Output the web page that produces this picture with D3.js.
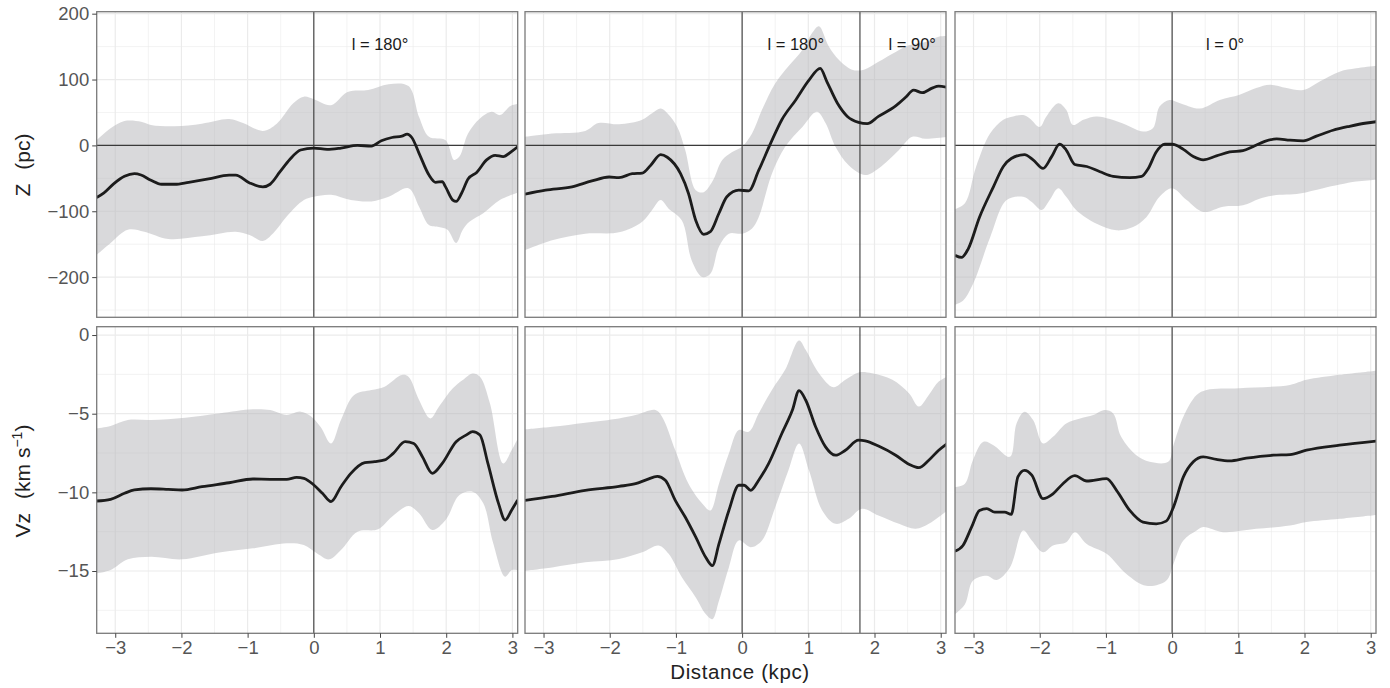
<!DOCTYPE html>
<html>
<head>
<meta charset="utf-8">
<script src="https://cdn.jsdelivr.net/npm/d3@7"></script>
<style>
  html, body { margin: 0; padding: 0; background: #fff; }
  svg { display: block; font-family: "Liberation Sans", Arial, Helvetica, sans-serif; }
</style>
</head>
<body>
<svg id="chart" width="1390" height="688"></svg>
<script>
// ---- tick values -------------------------------------------------------
const distTicks = [-3, -2, -1, 0, 1, 2, 3];
const zTicks = [-200, -100, 0, 100, 200];
const vzTicks = [-15, -10, -5, 0];

// ---- longitude annotations per column ([distance, text]) ---------------
const labelsA = [[1.0, "l = 180°"]];
const labelsB = [[0.81, "l = 180°"], [2.57, "l = 90°"]];
const labelsC = [[0.8, "l = 0°"]];

// vertical reference lines per column (distance, kpc)
const vlinesA = [0];
const vlinesB = [0, 1.78];
const vlinesC = [0];

// ---- Z (pc) : column A --------------------------------------------------
const zMidA = [[-3.28,-79],[-3.17,-72],[-3.02,-58],[-2.86,-47],[-2.71,-43],[-2.61,-45],[-2.46,-53],[-2.30,-59],[-2.10,-59],[-1.89,-56],[-1.59,-51],[-1.28,-45],[-1.18,-45],[-0.97,-57],[-0.77,-63],[-0.66,-59],[-0.51,-40],[-0.36,-21],[-0.20,-7],[0,-4],[0.20,-6],[0.41,-4],[0.66,0],[0.87,-1],[1.02,7],[1.18,12],[1.33,14],[1.41,17],[1.48,12],[1.59,-12],[1.74,-45],[1.84,-56],[1.94,-55],[1.99,-63],[2.10,-83],[2.15,-85],[2.23,-73],[2.33,-51],[2.46,-41],[2.61,-22],[2.74,-15],[2.86,-17],[2.99,-9],[3.08,-2]];
const zHiA = [[-3.28,8],[-3.07,26],[-2.86,37],[-2.61,36],[-2.46,31],[-2.10,29],[-1.69,33],[-1.28,40],[-1.07,34],[-0.77,22],[-0.56,33],[-0.31,64],[-0.15,74],[0,70],[0.26,61],[0.51,81],[0.82,84],[1.13,93],[1.43,90],[1.59,43],[1.74,13],[1.99,8],[2.12,-22],[2.20,-17],[2.33,18],[2.51,41],[2.69,51],[2.81,46],[2.97,60],[3.08,63]];
const zLoA = [[-3.28,-166],[-3.07,-148],[-2.81,-128],[-2.56,-131],[-2.20,-142],[-1.69,-138],[-1.18,-131],[-0.97,-136],[-0.77,-145],[-0.61,-133],[-0.41,-108],[-0.15,-83],[0,-78],[0.26,-75],[0.56,-83],[0.87,-85],[1.13,-78],[1.43,-65],[1.59,-93],[1.74,-121],[1.89,-124],[2.02,-128],[2.15,-148],[2.25,-128],[2.35,-116],[2.56,-103],[2.81,-83],[3.08,-72]];

// ---- Z (pc) : column B --------------------------------------------------
const zMidB = [[-3.28,-74],[-2.97,-68],[-2.57,-63],[-2.27,-54],[-2.01,-48],[-1.86,-49],[-1.66,-43],[-1.51,-42],[-1.38,-30],[-1.23,-14],[-1.13,-18],[-0.93,-43],[-0.81,-73],[-0.70,-114],[-0.58,-135],[-0.48,-131],[-0.35,-103],[-0.23,-78],[-0.05,-68],[0.10,-69],[0.25,-38],[0.43,3],[0.60,39],[0.81,69],[1.01,99],[1.18,117],[1.28,97],[1.44,64],[1.59,44],[1.76,35],[1.89,33],[2.06,44],[2.32,60],[2.47,73],[2.59,84],[2.72,80],[2.87,87],[2.97,90],[3.10,88]];
const zHiB = [[-3.28,13],[-2.87,18],[-2.37,22],[-2.17,34],[-1.86,32],[-1.51,39],[-1.36,49],[-1.23,56],[-1.13,49],[-0.98,28],[-0.86,-7],[-0.70,-68],[-0.58,-71],[-0.45,-55],[-0.30,-22],[-0.15,-10],[0,-2],[0.15,18],[0.30,54],[0.50,94],[0.70,120],[0.91,145],[1.06,171],[1.16,181],[1.31,150],[1.46,130],[1.66,115],[1.84,115],[2.06,127],[2.32,142],[2.52,152],[2.77,157],[2.97,165],[3.10,166]];
const zLoB = [[-3.28,-159],[-2.87,-144],[-2.37,-134],[-1.86,-132],[-1.51,-116],[-1.36,-98],[-1.23,-83],[-1.11,-96],[-0.91,-114],[-0.76,-175],[-0.60,-200],[-0.48,-195],[-0.35,-154],[-0.20,-134],[0,-134],[0.15,-126],[0.25,-109],[0.45,-43],[0.65,-2],[0.91,28],[1.13,51],[1.26,34],[1.41,-2],[1.61,-30],[1.86,-45],[2.06,-35],[2.37,-7],[2.57,13],[2.77,10],[3.10,13]];

// ---- Z (pc) : column C --------------------------------------------------
const zMidC = [[-3.28,-167],[-3.18,-170],[-3.08,-157],[-2.91,-109],[-2.70,-63],[-2.55,-32],[-2.43,-20],[-2.23,-14],[-2.10,-22],[-1.95,-35],[-1.82,-17],[-1.70,2],[-1.60,-7],[-1.47,-29],[-1.29,-32],[-1.09,-40],[-0.89,-47],[-0.64,-49],[-0.46,-47],[-0.36,-35],[-0.24,-10],[-0.11,2],[0,2],[0.17,-6],[0.32,-17],[0.47,-22],[0.67,-16],[0.87,-10],[1.07,-8],[1.22,-2],[1.40,6],[1.58,10],[1.78,8],[1.98,7],[2.18,14],[2.43,23],[2.68,29],[2.94,34],[3.09,36]];
const zHiC = [[-3.28,-97],[-3.13,-88],[-2.96,-32],[-2.75,18],[-2.55,39],[-2.40,44],[-2.25,46],[-2.15,41],[-2.00,28],[-1.90,44],[-1.72,64],[-1.60,54],[-1.50,31],[-1.34,39],[-1.14,44],[-0.94,40],[-0.69,31],[-0.44,21],[-0.29,26],[-0.19,59],[-0.04,69],[0.12,64],[0.42,56],[0.72,69],[1.02,77],[1.27,87],[1.48,92],[1.73,87],[1.98,84],[2.23,97],[2.53,112],[2.78,117],[3.09,121]];
const zLoC = [[-3.28,-242],[-3.16,-236],[-3.01,-211],[-2.75,-140],[-2.50,-83],[-2.25,-78],[-2.12,-86],[-1.97,-98],[-1.85,-83],[-1.72,-65],[-1.60,-78],[-1.45,-98],[-1.14,-119],[-0.84,-129],[-0.59,-124],[-0.39,-109],[-0.19,-78],[0,-65],[0.22,-83],[0.47,-101],[0.77,-93],[1.07,-91],[1.32,-81],[1.53,-76],[1.93,-73],[2.28,-65],[2.78,-55],[3.09,-52]];

// ---- Vz (km/s) : column A -----------------------------------------------
const vzMidA = [[-3.28,-10.55],[-3.07,-10.44],[-2.86,-10.06],[-2.71,-9.85],[-2.46,-9.77],[-2.20,-9.81],[-1.99,-9.85],[-1.69,-9.64],[-1.28,-9.39],[-0.92,-9.15],[-0.66,-9.17],[-0.41,-9.17],[-0.26,-9.05],[-0.15,-9.11],[0,-9.53],[0.13,-10.06],[0.26,-10.59],[0.41,-9.64],[0.56,-8.79],[0.77,-8.11],[0.92,-8.05],[1.07,-7.94],[1.20,-7.52],[1.38,-6.78],[1.51,-6.89],[1.64,-7.73],[1.79,-8.79],[1.94,-8.16],[2.15,-6.78],[2.30,-6.36],[2.40,-6.14],[2.51,-6.36],[2.63,-8.16],[2.79,-10.7],[2.89,-11.76],[2.99,-11.12],[3.08,-10.49]];
const vzHiA = [[-3.28,-5.93],[-3.07,-5.78],[-2.81,-5.40],[-2.46,-5.40],[-1.94,-5.25],[-1.43,-4.98],[-0.92,-4.72],[-0.66,-4.77],[-0.41,-5.08],[-0.20,-4.87],[-0.05,-5.15],[0.10,-5.83],[0.26,-6.89],[0.41,-5.40],[0.61,-3.81],[0.87,-3.50],[1.07,-3.28],[1.33,-2.54],[1.43,-2.65],[1.59,-4.13],[1.76,-5.30],[1.89,-4.56],[2.10,-3.39],[2.25,-2.86],[2.40,-2.44],[2.51,-2.65],[2.66,-4.34],[2.86,-8.16],[2.99,-7.31],[3.08,-6.57]];
const vzLoA = [[-3.28,-15.15],[-3.07,-14.94],[-2.81,-14.26],[-2.46,-14.09],[-1.99,-14.26],[-1.43,-13.83],[-0.92,-13.56],[-0.41,-13.24],[-0.15,-13.35],[0.05,-13.88],[0.23,-14.26],[0.41,-13.67],[0.66,-12.50],[0.97,-12.35],[1.18,-11.55],[1.43,-10.87],[1.59,-11.33],[1.79,-12.39],[1.99,-11.76],[2.20,-10.17],[2.40,-9.96],[2.56,-10.70],[2.71,-13.24],[2.89,-15.36],[2.99,-14.94],[3.08,-14.94]];

// ---- Vz (km/s) : column B -----------------------------------------------
const vzMidB = [[-3.28,-10.51],[-2.87,-10.26],[-2.37,-9.87],[-1.86,-9.62],[-1.61,-9.45],[-1.44,-9.19],[-1.28,-8.98],[-1.16,-9.23],[-1.01,-10.51],[-0.86,-11.57],[-0.70,-12.85],[-0.55,-14.13],[-0.45,-14.66],[-0.35,-13.28],[-0.20,-11.15],[-0.05,-9.55],[0.03,-9.55],[0.13,-9.87],[0.25,-9.23],[0.40,-8.17],[0.60,-6.26],[0.76,-4.77],[0.86,-3.53],[0.96,-4.13],[1.11,-5.83],[1.26,-7.11],[1.41,-7.64],[1.56,-7.32],[1.76,-6.68],[1.86,-6.72],[2.06,-7.06],[2.32,-7.64],[2.52,-8.21],[2.67,-8.43],[2.82,-7.96],[2.97,-7.32],[3.10,-6.89]];
const vzHiB = [[-3.28,-6.0],[-2.87,-5.83],[-2.37,-5.57],[-1.86,-5.30],[-1.61,-5.09],[-1.31,-4.77],[-1.21,-5.19],[-1.01,-7.32],[-0.81,-9.45],[-0.60,-10.72],[-0.48,-11.15],[-0.35,-9.45],[-0.20,-7.53],[-0.05,-6.04],[0.10,-6.15],[0.25,-4.98],[0.45,-3.49],[0.65,-2.21],[0.86,-0.34],[0.96,-0.94],[1.16,-2.43],[1.38,-3.32],[1.56,-2.85],[1.76,-2.38],[1.96,-2.43],[2.27,-2.85],[2.52,-3.70],[2.67,-4.55],[2.82,-3.81],[2.97,-2.96],[3.10,-2.64]];
const vzLoB = [[-3.28,-14.98],[-2.87,-14.77],[-2.37,-14.45],[-1.86,-14.23],[-1.51,-13.81],[-1.26,-13.38],[-1.11,-13.91],[-0.91,-15.40],[-0.70,-16.68],[-0.55,-17.74],[-0.45,-18.06],[-0.35,-16.89],[-0.20,-14.77],[-0.05,-13.06],[0.13,-13.49],[0.30,-13.06],[0.50,-10.94],[0.70,-8.60],[0.86,-6.89],[1.01,-8.60],[1.21,-11.15],[1.41,-12.0],[1.61,-11.68],[1.81,-11.04],[2.06,-11.47],[2.37,-12.0],[2.62,-12.32],[2.82,-12.0],[2.97,-11.57],[3.10,-11.15]];

// ---- Vz (km/s) : column C -----------------------------------------------
const vzMidC = [[-3.28,-13.74],[-3.16,-13.38],[-3.03,-12.21],[-2.91,-11.15],[-2.80,-11.04],[-2.68,-11.26],[-2.53,-11.26],[-2.43,-11.40],[-2.33,-9.02],[-2.23,-8.60],[-2.12,-8.91],[-1.95,-10.40],[-1.80,-10.09],[-1.65,-9.45],[-1.47,-8.94],[-1.29,-9.28],[-0.99,-9.13],[-0.84,-9.87],[-0.64,-11.15],[-0.44,-11.89],[-0.24,-12.0],[-0.09,-11.83],[0.02,-10.94],[0.17,-9.02],[0.32,-8.06],[0.47,-7.74],[0.67,-7.91],[0.87,-8.0],[1.12,-7.83],[1.53,-7.64],[1.78,-7.60],[2.03,-7.32],[2.53,-7.0],[3.09,-6.74]];
const vzHiC = [[-3.28,-9.66],[-3.13,-9.45],[-3.01,-7.96],[-2.85,-6.79],[-2.70,-7.0],[-2.45,-7.74],[-2.35,-5.62],[-2.23,-4.87],[-2.10,-5.40],[-1.95,-6.89],[-1.80,-6.47],[-1.60,-5.62],[-1.39,-5.30],[-1.19,-5.09],[-1.02,-4.77],[-0.89,-4.98],[-0.77,-6.47],[-0.54,-7.64],[-0.34,-8.06],[-0.06,-8.06],[0.02,-7.0],[0.17,-5.19],[0.37,-3.81],[0.52,-3.49],[1.02,-3.38],[1.78,-3.17],[2.03,-2.85],[2.53,-2.53],[3.09,-2.26]];
const vzLoC = [[-3.28,-17.74],[-3.13,-17.11],[-3.01,-15.62],[-2.80,-15.30],[-2.65,-15.57],[-2.45,-14.77],[-2.25,-12.43],[-2.12,-13.06],[-1.95,-13.81],[-1.80,-13.38],[-1.60,-13.17],[-1.47,-12.53],[-1.29,-13.28],[-0.99,-13.91],[-0.69,-15.19],[-0.39,-15.94],[-0.09,-15.62],[0.02,-14.55],[0.17,-13.06],[0.37,-12.43],[0.47,-12.21],[0.77,-12.53],[1.27,-12.32],[1.78,-12.11],[2.03,-11.89],[2.53,-11.68],[3.09,-11.43]];

// ---- layout ---------------------------------------------------------------
const svg = d3.select("#chart");
const colLeft = [96.7, 525, 955];
const panelW = 421;
const rows = [
  { top: 11.7, h: 305.6, domain: [-261, 203], ticks: zTicks, minor: [-250, -150, -50, 50, 150], hline: true,
    series: [[zMidA, zHiA, zLoA], [zMidB, zHiB, zLoB], [zMidC, zHiC, zLoC]] },
  { top: 326.7, h: 306.6, domain: [-18.96, 0.53], ticks: vzTicks, minor: [-17.5, -12.5, -7.5, -2.5], hline: false,
    series: [[vzMidA, vzHiA, vzLoA], [vzMidB, vzHiB, vzLoB], [vzMidC, vzHiC, vzLoC]] }
];
const colLabels = [labelsA, labelsB, labelsC];
const colVlines = [vlinesA, vlinesB, vlinesC];
const xDomain = [-3.28, 3.08];
const xMinor = [-2.5, -1.5, -0.5, 0.5, 1.5, 2.5];

const fmt = d3.format("d");
const defs = svg.append("defs");

rows.forEach((row, ri) => {
  const y = d3.scaleLinear().domain(row.domain).range([row.top + row.h, row.top]);
  colLeft.forEach((left, ci) => {
    const x = d3.scaleLinear().domain(xDomain).range([left, left + panelW]);
    const clipId = `clip-${ri}-${ci}`;
    defs.append("clipPath").attr("id", clipId)
      .append("rect").attr("x", left).attr("y", row.top).attr("width", panelW).attr("height", row.h);

    const g = svg.append("g");
    g.append("rect").attr("x", left).attr("y", row.top).attr("width", panelW).attr("height", row.h).attr("fill", "#fff");

    // grid
    const grid = g.append("g").attr("stroke", "#ebebeb");
    grid.selectAll(".vmin").data(xMinor).join("line").attr("class", "vmin")
      .attr("x1", d => x(d)).attr("x2", d => x(d)).attr("y1", row.top).attr("y2", row.top + row.h).attr("stroke-width", 0.6);
    grid.selectAll(".hmin").data(row.minor).join("line").attr("class", "hmin")
      .attr("x1", left).attr("x2", left + panelW).attr("y1", d => y(d)).attr("y2", d => y(d)).attr("stroke-width", 0.6);
    grid.selectAll(".vmaj").data(distTicks).join("line").attr("class", "vmaj")
      .attr("x1", d => x(d)).attr("x2", d => x(d)).attr("y1", row.top).attr("y2", row.top + row.h).attr("stroke-width", 1.2);
    grid.selectAll(".hmaj").data(row.ticks).join("line").attr("class", "hmaj")
      .attr("x1", left).attr("x2", left + panelW).attr("y1", d => y(d)).attr("y2", d => y(d)).attr("stroke-width", 1.2);

    const [mid, hi, lo] = row.series[ci];
    const inner = g.append("g").attr("clip-path", `url(#${clipId})`);

    // confidence band: upper edge forward, lower edge back
    const edge = d3.line().x(d => x(d[0])).y(d => y(d[1])).curve(d3.curveCatmullRom.alpha(0.5));
    const upperPath = edge(hi);
    const lowerPath = edge(lo.slice().reverse());
    inner.append("path")
      .attr("d", upperPath + "L" + lowerPath.slice(1) + "Z")
      .attr("fill", "#b3b4b7").attr("fill-opacity", 0.5);

    // reference lines
    if (row.hline) {
      inner.append("line").attr("x1", left).attr("x2", left + panelW)
        .attr("y1", y(0)).attr("y2", y(0)).attr("stroke", "#3a3a3a").attr("stroke-width", 1.1);
    }
    inner.selectAll(".vref").data(colVlines[ci]).join("line").attr("class", "vref")
      .attr("x1", d => x(d)).attr("x2", d => x(d)).attr("y1", row.top).attr("y2", row.top + row.h)
      .attr("stroke", "#3a3a3a").attr("stroke-width", 1.1);

    // mean curve
    const curve = d3.line().x(d => x(d[0])).y(d => y(d[1])).curve(d3.curveMonotoneX);
    inner.append("path").attr("d", curve(mid)).attr("fill", "none")
      .attr("stroke", "#1c1c1c").attr("stroke-width", 2.8).attr("stroke-linejoin", "round");

    // longitude labels on top row
    if (ri === 0) {
      g.selectAll(".lab").data(colLabels[ci]).join("text").attr("class", "lab")
        .attr("x", d => x(d[0])).attr("y", y(145))
        .attr("text-anchor", "middle").attr("font-size", 16.5).attr("fill", "#1a1a1a")
        .text(d => d[1]);
    }

    // border
    g.append("rect").attr("x", left).attr("y", row.top).attr("width", panelW).attr("height", row.h)
      .attr("fill", "none").attr("stroke", "#7a7a7a").attr("stroke-width", 1.3);

    // y axis on first column
    if (ci === 0) {
      const ax = svg.append("g").attr("transform", `translate(${left},0)`)
        .call(d3.axisLeft(y).tickValues(row.ticks).tickFormat(fmt).tickSize(4.5).tickPadding(3));
      ax.select(".domain").remove();
      ax.selectAll(".tick line").attr("stroke", "#444");
      ax.selectAll(".tick text").attr("font-size", 18.5).attr("fill", "#555").attr("font-family", "Liberation Sans, Arial, sans-serif");
    }
    // x axis on bottom row
    if (ri === 1) {
      const ax = svg.append("g").attr("transform", `translate(0,${row.top + row.h})`)
        .call(d3.axisBottom(x).tickValues(distTicks).tickFormat(fmt).tickSize(4.5).tickPadding(3));
      ax.select(".domain").remove();
      ax.selectAll(".tick line").attr("stroke", "#444");
      ax.selectAll(".tick text").attr("font-size", 18.5).attr("fill", "#555").attr("font-family", "Liberation Sans, Arial, sans-serif");
    }
  });
});

// axis titles
svg.append("text").attr("x", 740).attr("y", 679).attr("text-anchor", "middle")
  .attr("font-size", 20.5).attr("fill", "#222").attr("letter-spacing", 0.6).text("Distance (kpc)");

const zt = svg.append("text").attr("transform", "translate(30,165) rotate(-90)")
  .attr("text-anchor", "middle").attr("font-size", 21).attr("fill", "#222");
zt.append("tspan").text("Z");
zt.append("tspan").attr("dx", 14).text("(pc)");

const vt = svg.append("text").attr("transform", "translate(30,481) rotate(-90)")
  .attr("text-anchor", "middle").attr("font-size", 21).attr("fill", "#222");
vt.append("tspan").text("Vz");
vt.append("tspan").attr("dx", 14).text("(km s");
vt.append("tspan").attr("dy", -8).attr("font-size", 14).text("−1");
vt.append("tspan").attr("dy", 8).text(")");
</script>
</body>
</html>
